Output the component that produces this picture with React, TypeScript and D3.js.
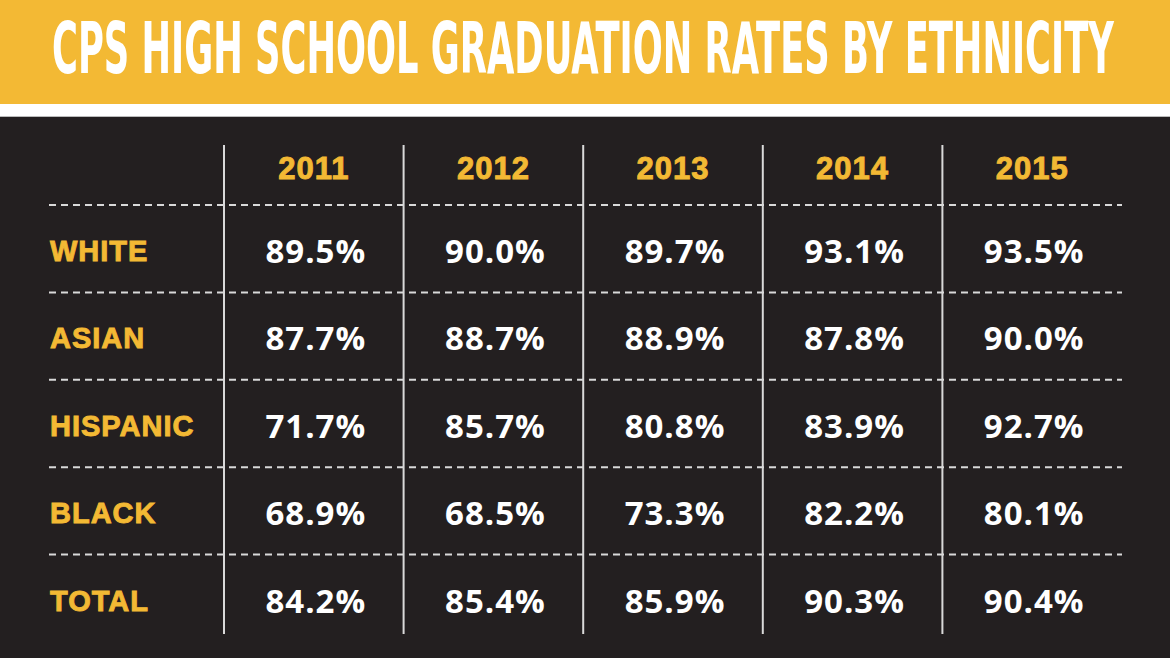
import React, { useLayoutEffect, useRef, useState } from "react";
import * as d3 from "d3";

const title = "CPS HIGH SCHOOL GRADUATION RATES BY ETHNICITY";
const years = ["2011", "2012", "2013", "2014", "2015"];
const groups = ["WHITE", "ASIAN", "HISPANIC", "BLACK", "TOTAL"];
const white = [89.5, 90.0, 89.7, 93.1, 93.5];
const asian = [87.7, 88.7, 88.9, 87.8, 90.0];
const hispanic = [71.7, 85.7, 80.8, 83.9, 92.7];
const black = [68.9, 68.5, 73.3, 82.2, 80.1];
const total = [84.2, 85.4, 85.9, 90.3, 90.4];
const seriesValues = [white, asian, hispanic, black, total];

const W = 1170;
const H = 658;
const YELLOW = "#F3B934";
const DARK = "#231F20";
const LINE = "#D9D9D9";
const TITLE_WIDTH = 1062;

export default function App() {
  const x = d3.scaleBand<string>().domain(years).range([224, 1122]);
  const y = d3.scaleBand<string>().domain(groups).range([205, 642]);
  const fmt = d3.format(".1f");
  const titleRef = useRef<SVGTextElement>(null);
  const [sx, setSx] = useState(0.5);

  useLayoutEffect(() => {
    if (titleRef.current) {
      const w = titleRef.current.getComputedTextLength();
      if (w > 0) setSx(TITLE_WIDTH / w);
    }
  }, []);

  return (
    <svg
      width={W}
      height={H}
      style={{ position: "absolute", left: 0, top: 0, display: "block" }}
    >
      <rect x={0} y={0} width={W} height={H} fill={DARK} />
      <rect x={0} y={0} width={W} height={104} fill={YELLOW} />
      <rect x={0} y={104} width={W} height={12} fill="#FFFFFF" />
      <rect x={0} y={116} width={W} height={1} fill="#BBBBBB" />
      <g transform={`translate(52,73) scale(${sx},1)`}>
        <text
          ref={titleRef}
          x={0}
          y={0}
          fill="#FFFFFF"
          style={{
            fontFamily: "'Liberation Sans Narrow', 'DejaVu Sans Condensed', 'DejaVu Sans', sans-serif",
            fontWeight: 700,
            fontSize: 71,
          }}
        >
          {title}
        </text>
      </g>

      {groups.map((g) => (
        <line
          key={"h" + g}
          x1={49}
          x2={1122}
          y1={y(g)!}
          y2={y(g)!}
          stroke={LINE}
          strokeWidth={2}
          strokeDasharray="7 5"
        />
      ))}
      {years.map((yr) => (
        <line
          key={"v" + yr}
          x1={x(yr)!}
          x2={x(yr)!}
          y1={145}
          y2={634}
          stroke={LINE}
          strokeWidth={2}
        />
      ))}

      {years.map((yr) => (
        <text
          key={"t" + yr}
          x={x(yr)! + x.bandwidth() / 2}
          y={179}
          textAnchor="middle"
          fill={YELLOW}
          stroke={YELLOW}
          strokeWidth={0.9}
          style={{
            fontFamily: "'Liberation Sans', Arial, sans-serif",
            fontWeight: 700,
            fontSize: 31,
            letterSpacing: 1,
          }}
        >
          {yr}
        </text>
      ))}

      {groups.map((g, gi) => (
        <g key={"r" + g}>
          <text
            x={50}
            y={y(g)! + 56}
            fill={YELLOW}
            stroke={YELLOW}
            strokeWidth={0.9}
            style={{
              fontFamily: "'Liberation Sans', Arial, sans-serif",
              fontWeight: 700,
              fontSize: 29,
              letterSpacing: 1,
            }}
          >
            {g}
          </text>
          {seriesValues[gi].map((v, i) => (
            <text
              key={years[i]}
              x={x(years[i])! + x.bandwidth() / 2 + 2}
              y={y(g)! + 58}
              textAnchor="middle"
              fill="#FFFFFF"
              style={{
                fontFamily: "'Open Sans', sans-serif",
                fontWeight: 700,
                fontSize: 33,
                letterSpacing: 1,
              }}
            >
              {fmt(v) + "%"}
            </text>
          ))}
        </g>
      ))}
    </svg>
  );
}
